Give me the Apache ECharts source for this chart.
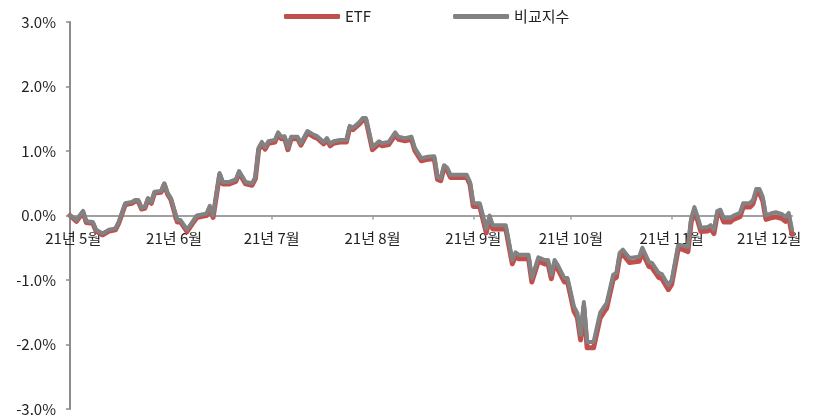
<!DOCTYPE html>
<html>
<head>
<meta charset="utf-8">
<script src="https://cdn.jsdelivr.net/npm/echarts@6/dist/echarts.min.js"></script>
<style>
  html, body { margin: 0; padding: 0; background: #fff; }
  #chart { width: 814px; height: 416px; }
</style>
</head>
<body>
<div id="chart"></div>
<script>
// prettier-ignore
var dates = ['2021-04-30',
  '2021-05-02','2021-05-04','2021-05-05','2021-05-07','2021-05-08','2021-05-10','2021-05-12','2021-05-14','2021-05-15','2021-05-17','2021-05-19','2021-05-20','2021-05-21','2021-05-22','2021-05-23','2021-05-24','2021-05-25','2021-05-26','2021-05-28','2021-05-29','2021-05-30','2021-05-31',
  '2021-06-02','2021-06-03','2021-06-05','2021-06-07','2021-06-08','2021-06-10','2021-06-11','2021-06-12','2021-06-13','2021-06-15','2021-06-16','2021-06-18','2021-06-20','2021-06-21','2021-06-23','2021-06-25','2021-06-26','2021-06-27','2021-06-28','2021-06-29','2021-06-30',
  '2021-07-02','2021-07-03','2021-07-04','2021-07-05','2021-07-06','2021-07-07','2021-07-09','2021-07-10','2021-07-12','2021-07-14','2021-07-15','2021-07-17','2021-07-18','2021-07-19','2021-07-20','2021-07-22','2021-07-24','2021-07-25','2021-07-26','2021-07-28','2021-07-29','2021-07-30',
  '2021-08-01','2021-08-03','2021-08-04','2021-08-06','2021-08-08','2021-08-09','2021-08-11','2021-08-13','2021-08-14','2021-08-16','2021-08-18','2021-08-20','2021-08-21','2021-08-22','2021-08-23','2021-08-24','2021-08-25','2021-08-30','2021-08-31',
  '2021-09-01','2021-09-03','2021-09-05','2021-09-06','2021-09-07','2021-09-11','2021-09-13','2021-09-14','2021-09-15','2021-09-18','2021-09-19','2021-09-21','2021-09-23','2021-09-24','2021-09-25','2021-09-26','2021-09-27','2021-09-29','2021-09-30',
  '2021-10-02','2021-10-03','2021-10-04','2021-10-05','2021-10-06','2021-10-08','2021-10-10','2021-10-11','2021-10-12','2021-10-14','2021-10-15','2021-10-16','2021-10-17','2021-10-19','2021-10-22','2021-10-23','2021-10-25','2021-10-26','2021-10-28','2021-10-29','2021-10-31',
  '2021-11-01','2021-11-03','2021-11-04','2021-11-06','2021-11-07','2021-11-08','2021-11-09','2021-11-10','2021-11-12','2021-11-13','2021-11-14','2021-11-15','2021-11-16','2021-11-17','2021-11-19','2021-11-20','2021-11-22','2021-11-23','2021-11-25','2021-11-26','2021-11-27','2021-11-28','2021-11-29','2021-11-30',
  '2021-12-02','2021-12-03','2021-12-05','2021-12-06','2021-12-07','2021-12-08'];
// prettier-ignore
var etf = [0.00,
  -0.09,0.05,-0.11,-0.12,-0.24,-0.30,-0.24,-0.22,-0.12,0.17,0.19,0.22,0.22,0.10,0.11,0.25,0.19,0.35,0.36,0.48,0.33,0.25,
  -0.10,-0.10,-0.25,-0.10,-0.03,-0.01,0.00,0.12,-0.03,0.63,0.49,0.49,0.53,0.66,0.49,0.47,0.57,1.02,1.11,1.03,1.12,
  1.14,1.26,1.19,1.20,1.02,1.19,1.19,1.09,1.28,1.22,1.20,1.11,1.17,1.08,1.12,1.14,1.14,1.36,1.33,1.42,1.48,1.48,
  1.02,1.11,1.08,1.10,1.25,1.18,1.16,1.18,1.01,0.85,0.87,0.88,0.56,0.54,0.74,0.70,0.59,0.59,0.48,
  0.14,0.14,-0.27,-0.05,-0.21,-0.21,-0.75,-0.63,-0.67,-0.67,-1.03,-0.71,-0.75,-0.75,-0.98,-0.75,-0.83,-1.03,-1.03,
  -1.49,-1.58,-1.93,-1.42,-2.05,-2.05,-1.59,-1.51,-1.44,-0.99,-0.96,-0.65,-0.60,-0.73,-0.71,-0.57,-0.79,-0.81,-0.96,-0.98,-1.15,
  -1.07,-0.52,-0.52,-0.56,-0.10,0.07,-0.08,-0.25,-0.24,-0.21,-0.28,0.01,0.03,-0.10,-0.10,-0.06,-0.02,0.13,0.13,0.18,0.35,0.35,0.23,-0.06,
  -0.03,-0.02,-0.05,-0.09,-0.03,-0.29];
// prettier-ignore
var bench = [0.00,
  -0.07,0.07,-0.09,-0.10,-0.22,-0.28,-0.22,-0.20,-0.10,0.19,0.21,0.24,0.24,0.12,0.13,0.27,0.21,0.37,0.38,0.50,0.35,0.27,
  -0.07,-0.07,-0.22,-0.07,0.00,0.02,0.03,0.15,0.00,0.66,0.52,0.52,0.56,0.69,0.52,0.50,0.60,1.05,1.14,1.06,1.15,
  1.17,1.29,1.22,1.23,1.05,1.22,1.22,1.12,1.31,1.25,1.23,1.14,1.20,1.11,1.15,1.17,1.17,1.39,1.36,1.45,1.51,1.51,
  1.06,1.15,1.12,1.14,1.29,1.22,1.20,1.22,1.05,0.89,0.91,0.92,0.60,0.58,0.78,0.74,0.63,0.63,0.52,
  0.19,0.19,-0.20,0.00,-0.15,-0.15,-0.69,-0.57,-0.61,-0.61,-0.97,-0.65,-0.69,-0.69,-0.92,-0.69,-0.77,-0.97,-0.97,
  -1.42,-1.51,-1.85,-1.34,-1.96,-1.96,-1.51,-1.43,-1.36,-0.92,-0.89,-0.58,-0.53,-0.66,-0.64,-0.50,-0.72,-0.74,-0.89,-0.91,-1.08,
  -1.00,-0.46,-0.46,-0.49,-0.04,0.13,-0.02,-0.19,-0.18,-0.15,-0.22,0.07,0.09,-0.04,-0.04,0.00,0.04,0.19,0.19,0.24,0.41,0.41,0.29,0.00,
  0.04,0.05,0.02,-0.02,0.04,-0.22];
var monthTicks = ['2021-05-01','2021-06-01','2021-07-01','2021-08-01','2021-09-01','2021-10-01','2021-11-01','2021-12-01'];
var yTicks = [-3, -2, -1, 0, 1, 2, 3];

function toTime(s) {
    var p = s.split('-');
    return new Date(+p[0], +p[1] - 1, +p[2]).getTime();
}

var tickTimes = monthTicks.map(toTime);
var etfData = dates.map(function (d, i) { return [toTime(d), etf[i]]; });
var benchData = dates.map(function (d, i) { return [toTime(d), bench[i]]; });

var font = '"Noto Sans CJK KR", "Noto Sans", sans-serif';
var gridTop = 22, gridBottom = 7, chartH = 416;
// y range is symmetric, so the zero line sits at the middle of the grid
var zeroOffset = (chartH - gridTop - gridBottom) / 2;

var chart = echarts.init(document.getElementById('chart'));
var option = {
    animation: false,
    textStyle: { fontFamily: font },
    legend: {
        top: 4,
        left: 279,
        itemWidth: 56,
        itemHeight: 5,
        itemGap: 82,
        icon: 'roundRect',
        textStyle: { fontSize: 15, color: '#222', fontFamily: font },
        data: ['ETF', '비교지수']
    },
    grid: { left: 70, right: 22, top: gridTop, bottom: gridBottom, outerBoundsMode: 'none' },
    xAxis: {
        // dates are placed on a plain numeric (timestamp) scale, month starts as custom ticks
        type: 'value',
        position: 'bottom',
        offset: -zeroOffset,
        min: toTime(dates[0]),
        max: toTime(dates[dates.length - 1]),
        axisLine: { onZero: false, lineStyle: { color: '#a0a0a0', width: 2 } },
        axisTick: { show: true, length: 4, customValues: tickTimes, lineStyle: { color: '#a0a0a0', width: 1.5 } },
        axisLabel: {
            customValues: tickTimes,
            margin: 15,
            fontSize: 15,
            color: '#222',
            fontFamily: font,
            formatter: function (v) {
                var d = new Date(v);
                return (d.getFullYear() % 100) + '년 ' + (d.getMonth() + 1) + '월';
            }
        },
        splitLine: { show: false }
    },
    yAxis: {
        type: 'value',
        min: yTicks[0],
        max: yTicks[yTicks.length - 1],
        interval: 1,
        axisLine: { show: true, onZero: false, lineStyle: { color: '#8c8c8c', width: 2 } },
        axisTick: { show: true, length: 4, lineStyle: { color: '#8c8c8c', width: 1.5 } },
        axisLabel: {
            margin: 14,
            fontSize: 15,
            color: '#222',
            fontFamily: font,
            formatter: function (v) { return v.toFixed(1) + '%'; }
        },
        splitLine: { show: false }
    },
    series: [
        {
            name: 'ETF',
            type: 'line',
            data: etfData,
            showSymbol: false,
            symbol: 'none',
            color: '#c0504d',
            lineStyle: { color: '#c0504d', width: 5, join: 'round', cap: 'round' },
            z: 2
        },
        {
            name: '비교지수',
            type: 'line',
            data: benchData,
            showSymbol: false,
            symbol: 'none',
            color: '#828282',
            lineStyle: { color: '#828282', width: 4, join: 'round', cap: 'round' },
            z: 3
        }
    ]
};
option && chart.setOption(option);
</script>
</body>
</html>
